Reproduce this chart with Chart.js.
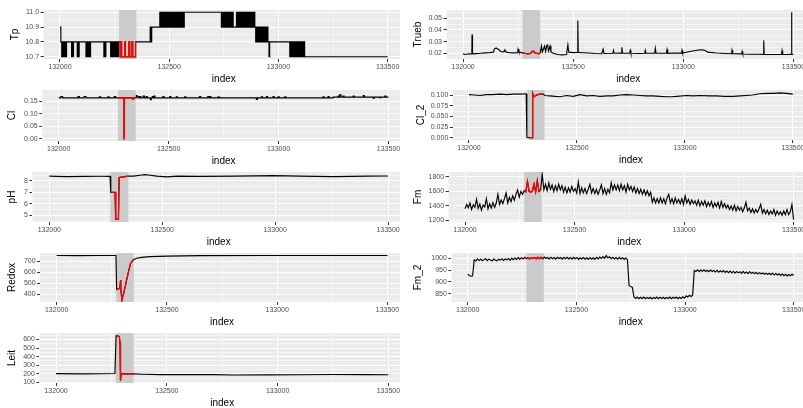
<!DOCTYPE html>
<html>
<head>
<meta charset="utf-8">
<script src="https://cdn.jsdelivr.net/npm/chart.js@4.4.0/dist/chart.umd.min.js"></script>
<style>
  body { margin: 0; background: #fff; width: 803px; height: 408px; overflow: hidden; position: relative; }
  .col { position: absolute; top: 0; height: 408px; overflow: hidden; }
  canvas { position: absolute; }
</style>
</head>
<body>
<div class="col" id="left" style="left:0;width:400px"></div>
<div class="col" id="right" style="left:400px;width:403px"></div>

<script>
  // window highlighted in grey (and drawn red) in every panel
  const shadeStart = 132270;
  const shadeEnd = 132350;

  const xMajor = [132000, 132500, 133000, 133500];
  const xMinor = [132250, 132750, 133250];

  // Tp (stepped, value holds until next index)
  const tpIndex = [
    132000,132004,132008,132011,132014,132017,132020,132024,132027,132030,
    132053,132056,132059,132062,132079,132082,132085,132088,
    132119,132122,132125,132128,132131,132134,132137,132140,
    132201,132204,132207,132210,
    132232,132235,132239,132242,132246,132249,132252,132256,132259,132262,132265,132268,
    132270,132276,132279,132282,132296,132299,132316,132319,132330,132333,132346,132350,
    132413,132416,132420,
    132457,132461,132465,132469,132473,132477,132481,132485,132489,132493,132497,132501,132505,132509,132513,
    132517,132521,132525,132529,132533,132537,132541,132545,132549,132553,132558,132562,132566,132569,
    132739,132743,132747,132751,132755,132759,132763,132767,132771,132775,132779,132783,132787,132790,132793,
    132808,132812,132816,132820,132824,132828,132832,132836,132840,132844,132848,
    132852,132856,132860,132864,132868,132872,132876,132880,132884,132888,132892,
    132896,132900,132904,132908,132912,132916,132920,132924,132928,132932,132936,132940,132944,132948,132952,
    132957,132960,
    133052,133056,133060,133064,133068,133072,133076,133080,133085,133089,133094,133098,133103,133107,133112,133116,133120,
    133500
  ];
  const tpValue = [
    10.9,10.8,10.7,10.8,10.7,10.8,10.7,10.8,10.7,10.8,
    10.7,10.8,10.7,10.8,10.7,10.8,10.7,10.8,
    10.7,10.8,10.7,10.8,10.7,10.8,10.7,10.8,
    10.7,10.8,10.7,10.8,
    10.7,10.8,10.7,10.8,10.7,10.8,10.7,10.8,10.7,10.8,10.7,10.8,
    10.8,10.7,10.8,10.7,10.8,10.7,10.8,10.7,10.8,10.7,10.8,10.8,
    10.9,10.8,10.9,
    11.0,10.9,11.0,10.9,11.0,10.9,11.0,10.9,11.0,10.9,11.0,10.9,11.0,10.9,11.0,
    10.9,11.0,10.9,11.0,10.9,11.0,10.9,11.0,10.9,11.0,10.9,11.0,10.9,11.0,
    10.9,11.0,10.9,11.0,10.9,11.0,10.9,11.0,10.9,11.0,10.9,11.0,10.9,11.0,10.9,
    11.0,10.9,11.0,10.9,11.0,10.9,11.0,10.9,11.0,10.9,11.0,
    10.9,11.0,10.9,11.0,10.9,11.0,10.9,11.0,10.9,11.0,10.9,
    10.8,10.9,10.8,10.9,10.8,10.9,10.8,10.9,10.8,10.9,10.8,10.9,10.8,10.9,10.8,
    10.7,10.8,
    10.7,10.8,10.7,10.8,10.7,10.8,10.7,10.8,10.7,10.8,10.7,10.8,10.7,10.8,10.7,10.8,10.7,
    10.7
  ];

  // Trueb
  const truebIndex = [
    132000,132012,132025,132040,132041,132043,132060,132080,132100,132120,
    132138,132142,132150,132156,132164,132170,132185,132190,132194,132210,
    132230,132248,132250,132254,132270,132280,132292,132305,132315,132320,
    132325,132335,132345,132350,132356,132360,132370,132375,132380,132384,
    132388,132395,132399,132410,132430,132450,132470,132476,132480,132500,
    132519,132521,132523,132545,132570,132600,132630,132636,132640,132680,
    132683,132686,132718,132721,132724,132756,132759,132762,132800,132825,
    132827,132829,132870,132873,132876,132923,132926,132929,132960,132992,
    132994,132997,133030,133050,133070,133085,133100,133110,133150,133190,
    133219,133221,133224,133265,133267,133270,133300,133340,133363,133365,
    133367,133400,133446,133448,133451,133470,133489,133491,133493,133500
  ];
  const truebValue = [
    0.0195,0.0190,0.0196,0.0194,0.0360,0.0195,0.0197,0.0200,0.0204,0.0206,
    0.0210,0.0236,0.0245,0.0238,0.0230,0.0215,0.0212,0.0230,0.0212,0.0205,
    0.0204,0.0206,0.0235,0.0210,0.0203,0.0200,0.0195,0.0198,0.0215,0.0220,
    0.0205,0.0200,0.0195,0.0203,0.0262,0.0212,0.0262,0.0215,0.0268,0.0272,
    0.0220,0.0262,0.0212,0.0200,0.0190,0.0186,0.0190,0.0272,0.0210,0.0206,
    0.0208,0.0480,0.0208,0.0205,0.0202,0.0198,0.0196,0.0235,0.0198,0.0200,
    0.0225,0.0200,0.0202,0.0252,0.0202,0.0200,0.0225,0.0200,0.0198,0.0200,
    0.0222,0.0200,0.0201,0.0242,0.0201,0.0200,0.0232,0.0200,0.0202,0.0201,
    0.0226,0.0202,0.0215,0.0222,0.0228,0.0230,0.0224,0.0210,0.0202,0.0198,
    0.0196,0.0225,0.0196,0.0195,0.0215,0.0194,0.0192,0.0192,0.0191,0.0310,
    0.0191,0.0190,0.0191,0.0222,0.0190,0.0190,0.0191,0.0552,0.0191,0.0192
  ];

  // Cl (stepped)
  const clIndex = [
    132000,132010,132018,132088,132094,132116,132124,132185,132191,132224,
    132229,132253,132259,132270,132297,132299,132336,132340,132350,132353,
    132357,132362,132368,132374,132384,132390,132398,132403,132417,132421,
    132426,132431,132433,132438,132474,132479,132505,132510,132535,132540,
    132573,132578,132640,132646,132678,132684,132687,132692,132725,132730,
    132899,132904,132922,132927,132945,132950,132975,132980,132998,133003,
    133028,133033,133202,133207,133225,133230,133248,133271,133276,133278,
    133284,133293,133298,133339,133344,133385,133390,133430,133436,133460,
    133466,133483,133488,133500
  ];
  const clValue = [
    0.163,0.168,0.163,0.168,0.163,0.168,0.163,0.167,0.163,0.167,
    0.163,0.168,0.163,0.163,0.000,0.163,0.158,0.163,0.163,0.172,
    0.168,0.163,0.168,0.163,0.170,0.163,0.168,0.163,0.156,0.163,
    0.168,0.163,0.170,0.163,0.168,0.163,0.168,0.163,0.167,0.163,
    0.167,0.163,0.168,0.163,0.168,0.163,0.168,0.163,0.167,0.163,
    0.157,0.163,0.167,0.163,0.168,0.163,0.168,0.163,0.167,0.163,
    0.167,0.163,0.167,0.163,0.168,0.163,0.166,0.170,0.166,0.175,
    0.166,0.170,0.166,0.170,0.166,0.172,0.166,0.162,0.166,0.164,
    0.166,0.170,0.166,0.166
  ];

  // Cl_2
  const cl2Index = [
    132000,132025,132051,132082,132110,132144,132175,132205,132240,132265,
    132268,132282,132292,132295,132301,132313,132329,132341,132352,132375,
    132400,132421,132452,132483,132514,132545,132575,132606,132640,132668,
    132700,132730,132760,132792,132820,132853,132885,132915,132940,132961,
    133008,133040,133069,133110,133146,133185,133224,133255,133285,133315,
    133347,133380,133409,133440,133471,133500
  ];
  const cl2Value = [
    0.101,0.100,0.099,0.101,0.101,0.102,0.101,0.102,0.102,0.103,
    0.001,0.000,0.000,0.104,0.096,0.100,0.102,0.103,0.099,0.098,
    0.097,0.096,0.099,0.097,0.101,0.098,0.099,0.097,0.098,0.098,
    0.100,0.101,0.100,0.099,0.098,0.098,0.097,0.096,0.096,0.097,
    0.099,0.098,0.099,0.098,0.098,0.097,0.097,0.098,0.099,0.100,
    0.103,0.104,0.104,0.105,0.104,0.102
  ];

  // pH
  const phIndex = [132000,132033,132077,132151,132225,132269,132272,132291,132294,132306,132309,132328,132350,132372,
    132402,132424,132446,132476,132520,132565,132668,132816,132993,133111,133259,133407,133500];
  const phValue = [8.42,8.40,8.38,8.40,8.41,8.40,7.00,7.00,4.65,4.65,8.30,8.36,8.42,8.42,
    8.50,8.55,8.50,8.42,8.36,8.42,8.40,8.42,8.46,8.42,8.38,8.42,8.43];

  // Redox
  const redoxIndex = [132000,132100,132200,132269,132272,132281,132287,132290,132291,132296,132305,132314,
    132325,132335,132348,132363,132385,132423,132499,132650,132952,133254,133500];
  const redoxValue = [752,751,752,752,445,450,460,530,455,350,420,500,
    600,680,715,728,736,742,747,751,752,752,752];

  // Leit
  const leitIndex = [132000,132120,132200,132266,132271,132282,132286,132289,132291,132294,132319,
    132349,132395,132470,132590,132711,132801,132952,133102,133253,133404,133500];
  const leitValue = [202,199,200,203,645,640,630,560,120,200,198,
    198,194,190,190,189,186,187,188,191,190,188];

  // Fm and Fm_2 read every 7.5 index steps from 132000
  const sampleStart = 132000;
  const sampleStep = 7.5;
  const fmValue = [
    1360,1420,1375,1440,1350,1415,1380,1490,1365,1425,1340,1410,1385,1500,1360,1430,1370,1445,1380,1440,
    1560,1420,1480,1430,1500,1580,1440,1520,1460,1540,1480,1560,1620,1520,1600,1560,1610,1595,1740,1600,
    1590,1605,1700,1595,1750,1600,1620,1840,1620,1700,1610,1720,1630,1690,1600,1680,1610,1700,1620,1680,
    1590,1660,1580,1650,1590,1670,1600,1640,1580,1730,1570,1650,1580,1640,1570,1630,1700,1580,1640,1570,
    1630,1560,1620,1690,1570,1640,1560,1630,1580,1720,1620,1690,1620,1690,1610,1700,1620,1680,1590,1700,
    1620,1670,1600,1660,1580,1640,1570,1630,1560,1620,1550,1610,1540,1590,1450,1510,1440,1500,1440,1510,
    1440,1500,1430,1510,1560,1440,1500,1430,1510,1440,1490,1430,1500,1420,1540,1440,1490,1420,1480,1430,
    1470,1410,1480,1400,1460,1410,1470,1390,1450,1400,1460,1380,1440,1390,1450,1370,1460,1380,1430,1370,
    1410,1350,1400,1340,1410,1330,1390,1340,1380,1320,1370,1450,1330,1370,1310,1360,1300,1350,1310,1360,
    1420,1300,1350,1290,1340,1280,1330,1290,1350,1270,1330,1280,1320,1270,1330,1280,1350,1280,1320,1420,
    1210
  ];
  const fm2Value = [
    932,927,924,926,993,988,997,990,996,989,995,998,990,996,992,988,997,991,989,996,
    992,998,991,997,993,999,991,1000,994,1001,995,1003,996,1002,997,1004,998,1003,997,1002,
    999,1003,997,1004,998,1004,997,1005,999,1003,997,1004,998,1003,996,1004,999,1003,996,1004,
    998,1004,997,1003,996,1004,998,1003,995,1002,997,1003,996,1002,995,1003,996,1002,995,1004,
    997,1005,999,1007,1000,1011,1001,1006,998,1004,997,1003,996,1004,997,1002,995,1001,994,885,
    880,877,836,830,836,829,835,830,836,829,834,830,835,828,834,830,836,829,835,830,
    835,829,834,830,836,829,835,831,836,829,835,830,837,831,841,836,843,838,844,948,
    944,951,943,950,945,951,944,949,943,950,944,948,942,949,941,947,942,948,940,946,
    939,946,938,945,937,944,938,943,936,944,937,942,935,943,936,941,934,940,933,939,
    934,938,932,937,931,936,930,937,929,935,929,934,927,933,926,932,925,931,926,932,
    927
  ];
  const sampleIndex = fmValue.map((v, i) => sampleStart + i * sampleStep);

  Chart.defaults.font.family = '"Liberation Sans", Arial, sans-serif';

  // panel layout, measured on the reference (page pixels)
  const panels = [
    { title: 'Tp', col: 'left', bgLeft: 43.6, bgRight: 404.4, bgTop: 10, bgBottom: 59,
      yMin: 10.685, yMax: 11.015, major: [10.7, 10.8, 10.9, 11.0], minor: [10.75, 10.85, 10.95], digits: 1,
      titleX: 15, index: tpIndex, values: tpValue, stepped: true },
    { title: 'Trueb', col: 'right', bgLeft: 446.5, bgRight: 809.5, bgTop: 10, bgBottom: 59,
      yMin: 0.0151, yMax: 0.0571, major: [0.02, 0.03, 0.04, 0.05], minor: [0.025, 0.035, 0.045, 0.055], digits: 2,
      titleX: 18, index: truebIndex, values: truebValue, stepped: false },
    { title: 'Cl', col: 'left', bgLeft: 42.2, bgRight: 404.8, bgTop: 90, bgBottom: 140.5,
      yMin: -0.00925, yMax: 0.19425, major: [0, 0.05, 0.10, 0.15], minor: [0.025, 0.075, 0.125, 0.175], digits: 2,
      titleX: 12, index: clIndex, values: clValue, stepped: true },
    { title: 'Cl_2', col: 'right', bgLeft: 452.8, bgRight: 809.2, bgTop: 90, bgBottom: 140,
      yMin: -0.0053, yMax: 0.1118, major: [0, 0.025, 0.05, 0.075, 0.1], minor: [0.0125, 0.0375, 0.0625, 0.0875], digits: 3,
      titleX: 21, index: cl2Index, values: cl2Value, stepped: false },
    { title: 'pH', col: 'left', bgLeft: 32.4, bgRight: 404.6, bgTop: 171.7, bgBottom: 221.5,
      yMin: 4.42, yMax: 8.78, major: [5, 6, 7, 8], minor: [4.5, 5.5, 6.5, 7.5, 8.5], digits: 0,
      titleX: 12, index: phIndex, values: phValue, stepped: false },
    { title: 'Fm', col: 'right', bgLeft: 448.6, bgRight: 809.7, bgTop: 171.7, bgBottom: 221.5,
      yMin: 1177, yMax: 1869, major: [1200, 1400, 1600, 1800], minor: [1300, 1500, 1700], digits: 0,
      titleX: 18, index: sampleIndex, values: fmValue, stepped: false },
    { title: 'Redox', col: 'left', bgLeft: 40.1, bgRight: 404.2, bgTop: 252.7, bgBottom: 301.7,
      yMin: 332, yMax: 775, major: [400, 500, 600, 700], minor: [350, 450, 550, 650, 750], digits: 0,
      titleX: 12, index: redoxIndex, values: redoxValue, stepped: false },
    { title: 'Fm_2', col: 'right', bgLeft: 451.4, bgRight: 809.6, bgTop: 252.7, bgBottom: 301.7,
      yMin: 815, yMax: 1022, major: [850, 900, 950, 1000], minor: [825, 875, 925, 975], digits: 0,
      titleX: 18, index: sampleIndex, values: fm2Value, stepped: false },
    { title: 'Leit', col: 'left', bgLeft: 39.4, bgRight: 404.6, bgTop: 333.3, bgBottom: 382.7,
      yMin: 92, yMax: 676, major: [100, 200, 300, 400, 500, 600], minor: [150, 250, 350, 450, 550, 650], digits: 0,
      titleX: 12, index: leitIndex, values: leitValue, stepped: false },
  ];

  function makeTicks(major, minor) {
    const t = major.map(v => ({ value: v, minor: false }))
      .concat(minor.map(v => ({ value: v, minor: true })));
    t.sort((a, b) => a.value - b.value);
    return t;
  }

  // grey ggplot panel + highlighted window
  const ggPanel = {
    id: 'ggPanel',
    beforeDraw(chart) {
      const a = chart.chartArea;
      const ctx = chart.ctx;
      ctx.save();
      ctx.fillStyle = '#EBEBEB';
      ctx.fillRect(a.left, a.top, a.right - a.left, a.bottom - a.top);
      ctx.restore();
    },
    beforeDatasetsDraw(chart) {
      const a = chart.chartArea;
      const ctx = chart.ctx;
      const x1 = chart.scales.x.getPixelForValue(shadeStart);
      const x2 = chart.scales.x.getPixelForValue(shadeEnd);
      ctx.save();
      ctx.fillStyle = '#CBCBCB';
      ctx.fillRect(x1, a.top, x2 - x1, a.bottom - a.top);
      ctx.restore();
    }
  };

  const gridStyle = {
    color: '#FFFFFF',
    lineWidth: c => (c.tick && c.tick.minor) ? 0.5 : 1,
    tickColor: c => (c.tick && c.tick.minor) ? 'rgba(0,0,0,0)' : '#333333',
    tickLength: 3,
    drawTicks: true,
  };

  function drawPanel(p) {
    const colLeft = p.col === 'left' ? 0 : 400;
    const top = Math.round(p.bgTop) - 6;
    const cv = document.createElement('canvas');
    cv.width = Math.round(p.bgRight - colLeft);
    cv.height = Math.round(p.bgBottom) - Math.round(p.bgTop) + 32;
    cv.style.left = '0px';
    cv.style.top = top + 'px';
    document.getElementById(p.col).appendChild(cv);

    const pts = p.index.map((x, i) => ({ x: x, y: p.values[i] }));
    const redPts = pts.filter(d => d.x >= shadeStart && d.x <= shadeEnd);

    new Chart(cv, {
      type: 'line',
      data: {
        datasets: [
          { data: redPts, borderColor: '#FF0000', borderWidth: 1.3, pointRadius: 0, stepped: p.stepped },
          { data: pts, borderColor: '#000000', borderWidth: 1.15, pointRadius: 0, stepped: p.stepped },
        ]
      },
      options: {
        responsive: false,
        animation: false,
        devicePixelRatio: 1,
        events: [],
        layout: { padding: { top: 6, left: 0, right: 0, bottom: 0 } },
        plugins: { legend: { display: false }, tooltip: { enabled: false } },
        scales: {
          x: {
            type: 'linear',
            min: 131925,
            max: 133575,
            bounds: 'data',
            afterBuildTicks: s => { s.ticks = makeTicks(xMajor, xMinor); },
            afterFit: s => { s.height = 26; },
            ticks: {
              autoSkip: false, maxRotation: 0, padding: 1,
              color: '#4D4D4D', font: { size: 7 },
              callback: (v, i, t) => t[i].minor ? '' : String(v),
            },
            grid: gridStyle,
            border: { display: false },
            title: { display: true, text: 'index', color: '#000000', font: { size: 10 }, padding: 0 },
          },
          y: {
            type: 'linear',
            min: p.yMin,
            max: p.yMax,
            bounds: 'data',
            afterBuildTicks: s => { s.ticks = makeTicks(p.major, p.minor); },
            afterFit: s => { s.width = p.bgLeft - colLeft; },
            ticks: {
              autoSkip: false, padding: 1.5,
              color: '#4D4D4D', font: { size: 7 },
              callback: (v, i, t) => t[i].minor ? '' : v.toFixed(p.digits),
            },
            grid: gridStyle,
            border: { display: false },
            title: { display: true, text: p.title, color: '#000000', font: { size: 10 },
              padding: { top: p.titleX - 6, bottom: 0 } },
          }
        }
      },
      plugins: [ggPanel]
    });
  }

  panels.forEach(drawPanel);
</script>
</body>
</html>
